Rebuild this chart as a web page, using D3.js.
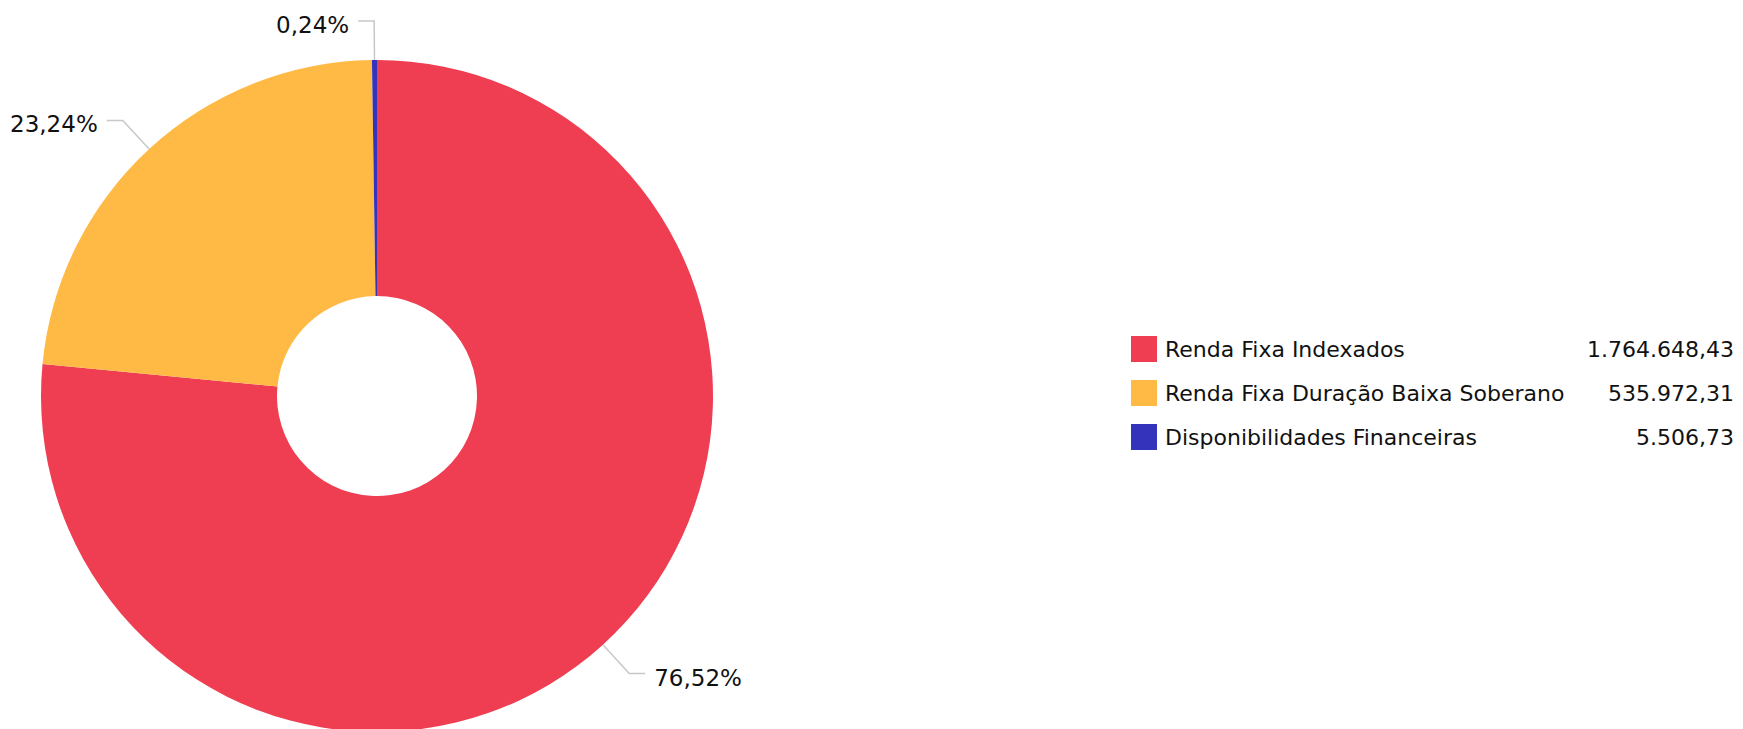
<!DOCTYPE html>
<html>
<head>
<meta charset="utf-8">
<script src="https://cdn.jsdelivr.net/npm/d3@7"></script>
<style>
  body { margin: 0; background: #fff; }
  svg text { font-family: "DejaVu Sans", Verdana, sans-serif; fill: #111; }
</style>
</head>
<body>
<div id="chart"></div>
<script>
// Carteira por segmento
const categories = ["Renda Fixa Indexados", "Renda Fixa Duração Baixa Soberano", "Disponibilidades Financeiras"];
const values = [1764648.43, 535972.31, 5506.73];
const colors = ["#ef3d52", "#ffba45", "#3333bb"];

const width = 1743, height = 729;
const cx = 377, cy = 396;
const outerR = 336, innerR = 100;

const locale = d3.formatLocale({ decimal: ",", thousands: ".", grouping: [3], currency: ["R$", ""] });
const fmtValue = locale.format(",.2f");
const fmtPct = locale.format(".2%");

const data = categories.map((c, i) => ({ key: c, value: values[i], color: colors[i] }));
const total = d3.sum(values);

const svg = d3.select("#chart").append("svg")
    .attr("width", width)
    .attr("height", height);

const pie = d3.pie()
    .value(d => d.value)
    .sort(null);

const arc = d3.arc()
    .innerRadius(innerR)
    .outerRadius(outerR);

const arcs = pie(data);

const g = svg.append("g")
    .attr("transform", `translate(${cx},${cy})`);

g.selectAll("path.slice")
    .data(arcs)
    .enter()
    .append("path")
    .attr("class", "slice")
    .attr("d", arc)
    .attr("fill", d => d.data.color);

// leader lines + percent labels
const bendR = 375, hLen = 16, gap = 9;
arcs.forEach(d => {
    const mid = (d.startAngle + d.endAngle) / 2;
    const p0 = [outerR * Math.sin(mid), -outerR * Math.cos(mid)];
    const p1 = [bendR * Math.sin(mid), -bendR * Math.cos(mid)];
    const right = Math.sin(mid) > 0;
    const p2 = [p1[0] + (right ? hLen : -hLen), p1[1]];

    g.append("polyline")
        .attr("points", [p0, p1, p2].map(p => p.join(",")).join(" "))
        .attr("fill", "none")
        .attr("stroke", "#c8c8c8")
        .attr("stroke-width", 1.5);

    g.append("text")
        .attr("x", p2[0] + (right ? gap : -gap))
        .attr("y", p2[1] + 4)
        .attr("dy", "0.35em")
        .attr("text-anchor", right ? "start" : "end")
        .style("font-size", "23px")
        .text(fmtPct(d.data.value / total));
});

// legend
const legend = svg.append("g")
    .attr("transform", "translate(1131,336)");

const rows = legend.selectAll("g")
    .data(data)
    .enter()
    .append("g")
    .attr("transform", (d, i) => `translate(0,${i * 44})`);

rows.append("rect")
    .attr("width", 26)
    .attr("height", 26)
    .attr("fill", d => d.color);

rows.append("text")
    .attr("x", 34)
    .attr("y", 13)
    .attr("dy", "0.35em")
    .style("font-size", "22px")
    .text(d => d.key);

rows.append("text")
    .attr("x", 1734 - 1131)
    .attr("y", 13)
    .attr("dy", "0.35em")
    .attr("text-anchor", "end")
    .style("font-size", "22px")
    .text(d => fmtValue(d.value));
</script>
</body>
</html>
